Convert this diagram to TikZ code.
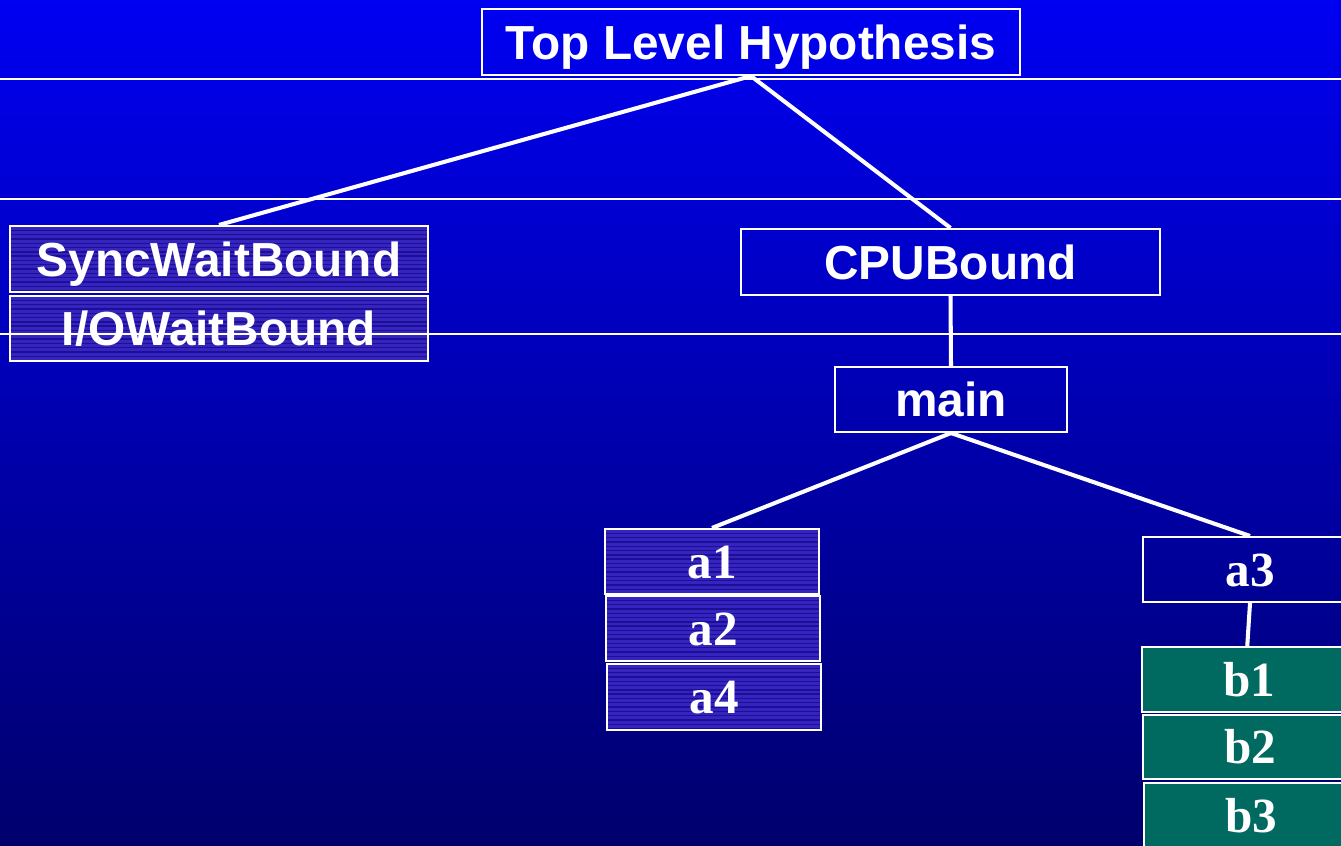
\documentclass[tikz,border=0pt]{standalone}
\usepackage{fontspec}
\setmainfont{Liberation Serif}
\setsansfont{Liberation Sans}
\definecolor{bgtop}{HTML}{0000F2}
\definecolor{bgbottom}{HTML}{00006C}
\definecolor{hatchfill}{HTML}{3524BE}
\definecolor{hatchline}{HTML}{1C0E96}
\definecolor{tealfill}{HTML}{006A60}
\begin{document}
\begin{tikzpicture}[x=0.02cm,y=-0.02cm,
  box/.style={draw=white, line width=1.2pt, text=white, inner sep=0pt,
    minimum height=65*0.02cm, anchor=center},
  sanslbl/.style={font=\sffamily\bfseries\fontsize{27.2}{30}\selectfont,
    text height=19.5pt, text depth=0pt},
  seriflbl/.style={font=\rmfamily\bfseries\fontsize{28}{30}\selectfont,
    text height=18.9pt, text depth=0pt},
  hatched/.style={fill=hatchfill, path picture={
    \foreach \k in {1,...,16}{
      \draw[hatchline, line width=0.8pt]
        ([yshift=-\k*2.45pt]path picture bounding box.north west) --
        ([yshift=-\k*2.45pt]path picture bounding box.north east);}}},
  tealbox/.style={fill=tealfill},
  link/.style={draw=white, line width=2.3pt},
  rule/.style={draw=white, line width=0.6pt}]

\useasboundingbox (0,0) rectangle (1341,845);
\shade[top color=bgtop, bottom color=bgbottom] (0,0) rectangle (1341,845);
\clip (0,0) rectangle (1341,845);

% hypothesis tree
\node[box, sanslbl, minimum width=538*0.02cm, minimum height=66*0.02cm] (top) at (751,42) {Top Level Hypothesis};
\node[box, sanslbl, hatched, minimum width=418*0.02cm, minimum height=66*0.02cm] (sync) at (219,259) {SyncWaitBound};
\node[box, sanslbl, hatched, minimum width=418*0.02cm] (io) at (219,328.5) {I/OWaitBound};
\node[box, sanslbl, minimum width=419*0.02cm, minimum height=66*0.02cm] (cpu) at (950.5,262) {CPUBound};
\node[box, sanslbl, minimum width=232*0.02cm] (main) at (951,399.5) {main};

% function level
\node[box, seriflbl, hatched, minimum width=214*0.02cm] (a1) at (712,561.5) {a1};
\node[box, seriflbl, hatched, minimum width=214*0.02cm] (a2) at (713,628.5) {a2};
\node[box, seriflbl, hatched, minimum width=214*0.02cm, minimum height=66*0.02cm] (a4) at (714,697) {a4};
\node[box, seriflbl, minimum width=214*0.02cm] (a3) at (1250,569.5) {a3};
\node[box, seriflbl, tealbox, minimum width=214*0.02cm] (b1) at (1249,679.5) {b1};
\node[box, seriflbl, tealbox, minimum width=214*0.02cm, minimum height=64*0.02cm] (b2) at (1250,747) {b2};
\node[box, seriflbl, tealbox, minimum width=214*0.02cm] (b3) at (1251,815.5) {b3};

% connectors
\draw[link] (top.south) -- (sync.north);
\draw[link] (top.south) -- (cpu.north);
\draw[link] (cpu.south) -- (main.north);
\draw[link] (main.south) -- (a1.north);
\draw[link] (main.south) -- (a3.north);
\draw[link] (a3.south) -- ([xshift=-1pt]b1.north);

% thin horizontal rules
\draw[rule] (0,79) -- (1341,79);
\draw[rule] (0,199) -- (1341,199);
\draw[rule] (0,334) -- (1341,334);
\end{tikzpicture}
\end{document}
